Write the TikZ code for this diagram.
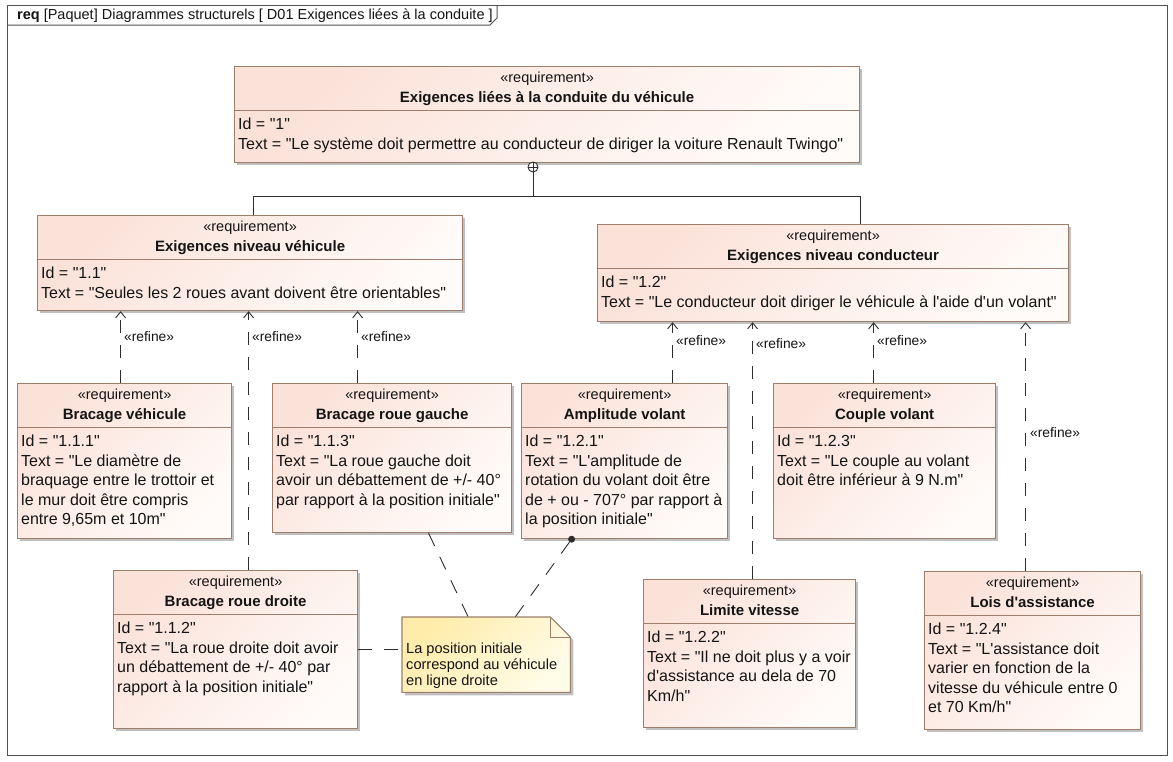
\documentclass[tikz,border=0pt]{standalone}
\usepackage{fontspec}
\setmainfont{Liberation Sans}[Ligatures=TeXOff]
\usetikzlibrary{arrows.meta,calc}
\definecolor{reqA}{RGB}{251,226,217}
\definecolor{reqB}{RGB}{255,251,249}
\definecolor{noteA}{RGB}{255,236,170}
\definecolor{noteB}{RGB}{255,252,232}
\definecolor{bordc}{RGB}{158,126,106}
\definecolor{shad}{RGB}{192,192,192}
\definecolor{linec}{RGB}{45,45,45}
\definecolor{framec}{RGB}{80,80,80}
\definecolor{txtc}{RGB}{20,20,20}
\tikzset{
  reqshape/.style={draw=bordc, line width=1.2pt, top color=reqA, bottom color=reqB, shading angle=45, inner sep=0, rectangle},
  stereo/.style={font=\fontsize{14.5}{17}\selectfont, inner sep=0, text=txtc},
  titl/.style={font=\fontsize{15}{18}\selectfont\bfseries, inner sep=0, text=txtc},
  body/.style={font=\fontsize{16}{19.5}\selectfont, align=left, inner sep=0, text=txtc},
  reflab/.style={font=\fontsize{13.8}{16}\selectfont, inner sep=0, text=txtc},
  notetxt/.style={font=\fontsize{14.6}{16}\selectfont, align=left, inner sep=0, text=txtc},
  hdrfont/.style={font=\fontsize{14.5}{17}\selectfont, inner sep=0, text=txtc},
  refl/.style={draw=linec, line width=0.9pt, dash pattern=on 13pt off 12pt, -{Straight Barb[length=6pt,width=10pt,line width=0.9pt]}},
  anchl/.style={draw=linec, line width=0.9pt, dash pattern=on 14pt off 12pt},
  contl/.style={draw=linec, line width=0.9pt},
}
\newcommand\reqbox[8]{%
  \fill[shad] (#2+3,#3+3) rectangle (#4+3,#5+3);
  \node[reqshape, minimum width={#4-#2}, minimum height={#5-#3}, anchor=north west] (#1) at (#2,#3) {};
  \draw[bordc, line width=1pt] ([yshift=-44pt]#1.north west) -- ([yshift=-44pt]#1.north east);
  \node[stereo, anchor=base] (#1-st) at ([yshift=-16pt]#1.north) {«requirement»};
  \node[titl, anchor=base] (#1-ti) at ([yshift=-36pt]#1.north) {#6};
  \node[body, anchor=north west] (#1-bd) at ([xshift=4pt,yshift=-52pt]#1.north west) {Id = "#7"\\Text = "#8};
}
\newcommand\refarrow[5]{%
  \draw[refl] ([xshift=#3pt]#1.north) -- ([xshift=#3pt]#1.north |- #2.south);
  \node[reflab, anchor=west] (#1-rf) at (#4,#5) {«refine»};
}
\begin{document}
\begin{tikzpicture}[x=1pt,y=-1pt]
\useasboundingbox (0,0) rectangle (1173,761);
\fill[white] (0,0) rectangle (1173,761);
% frame
\draw[framec, line width=1pt] (7,5) rectangle (1167,755);
\draw[framec, line width=1pt] (7,25) -- (490,25) -- (497,18) -- (497,5);
\node[hdrfont, anchor=base west] (hdr) at (17,19) {\textbf{req} [Paquet] Diagrammes structurels [ D01 Exigences liées à la conduite ]};

% requirements
\reqbox{r1}{234}{66}{859}{162}{Exigences liées à la conduite du véhicule}{1}{Le système doit permettre au conducteur de diriger la voiture Renault Twingo"}
\reqbox{r11}{37}{215}{462}{310}{Exigences niveau véhicule}{1.1}{Seules les 2 roues avant doivent être orientables"}
\reqbox{r12}{597}{224}{1068}{321}{Exigences niveau conducteur}{1.2}{Le conducteur doit diriger le véhicule à l'aide d'un volant"}
\reqbox{r111}{17}{383}{231}{538}{Bracage véhicule}{1.1.1}{Le diamètre de\\braquage entre le trottoir et\\le mur doit être compris\\entre 9,65m et 10m"}
\reqbox{r113}{272}{383}{511}{532}{Bracage roue gauche}{1.1.3}{La roue gauche doit\\avoir un débattement de +/- 40°\\par rapport à la position initiale"}
\reqbox{r121}{521}{383}{727}{538}{Amplitude volant}{1.2.1}{L'amplitude de\\rotation du volant doit être\\de + ou - 707° par rapport à\\la position initiale"}
\reqbox{r123}{773}{383}{995}{538}{Couple volant}{1.2.3}{Le couple au volant\\doit être inférieur à 9 N.m"}
\reqbox{r112}{113}{570}{357}{728}{Bracage roue droite}{1.1.2}{La roue droite doit avoir\\un débattement de +/- 40° par\\rapport à la position initiale"}
\reqbox{r122}{643}{579}{855}{727}{Limite vitesse}{1.2.2}{Il ne doit plus y a voir\\d'assistance au dela de 70\\Km/h"}
\reqbox{r124}{924}{571}{1140}{729}{Lois d'assistance}{1.2.4}{L'assistance doit\\varier en fonction de la\\vitesse du véhicule entre 0\\et 70 Km/h"}

% containment
\node[circle, draw=linec, line width=0.9pt, fill=white, minimum size=10pt, inner sep=0] (plus) at (533,167) {};
\draw[contl] (plus.north) -- (plus.south);
\draw[contl] (plus.west) -- (plus.east);
\coordinate (jl) at (253,196);
\coordinate (jr) at (860,196);
\draw[contl] (plus.south) -- (plus.south |- jl);
\draw[contl] (r11.north -| jl) |- (jr) -- (jr |- r12.north);

% refine dependencies
\refarrow{r111}{r11}{-4}{124}{337}
\refarrow{r112}{r11}{13}{252}{337}
\refarrow{r113}{r11}{-34.5}{361}{337}
\refarrow{r121}{r12}{48}{676}{341}
\refarrow{r122}{r12}{3}{756}{344}
\refarrow{r123}{r12}{-11}{877}{341}
\refarrow{r124}{r12}{-7}{1030}{433}

% note
\node[inner sep=0, minimum width=168pt, minimum height=75pt, anchor=north west] (note) at (402,617) {};
\fill[shad] ([shift={(3pt,-3pt)}]note.north west) -- ([shift={(-17pt,-3pt)}]note.north east) -- ([shift={(3pt,-23pt)}]note.north east) -- ([shift={(3pt,-3pt)}]note.south east) -- ([shift={(3pt,-3pt)}]note.south west) -- cycle;
\shade[top color=noteA, bottom color=noteB, shading angle=45] (note.north west) -- ([xshift=-20pt]note.north east) -- ([yshift=-20pt]note.north east) -- (note.south east) -- (note.south west) -- cycle;
\draw[bordc, line width=1.1pt] (note.north west) -- ([xshift=-20pt]note.north east) -- ([yshift=-20pt]note.north east) -- (note.south east) -- (note.south west) -- cycle;
\draw[bordc, line width=1pt] ([xshift=-20pt]note.north east) -- ([xshift=-20pt,yshift=-20pt]note.north east) -- ([yshift=-20pt]note.north east);
\node[notetxt, anchor=north west] (notet) at ([xshift=4pt,yshift=-25.5pt]note.north west) {La position initiale\\correspond au véhicule\\en ligne droite};

% note anchors
\node[circle, fill=linec, inner sep=0, minimum size=7pt] (dot) at ([xshift=-53pt]r121.south) {};
\draw[anchl] (r112.east) -- (r112.east -| note.west);
\draw[anchl] ([xshift=36.5pt]r113.south) -- ([xshift=-18pt]note.north);
\draw[anchl] (dot) -- ([xshift=29pt]note.north);
\end{tikzpicture}
\end{document}
